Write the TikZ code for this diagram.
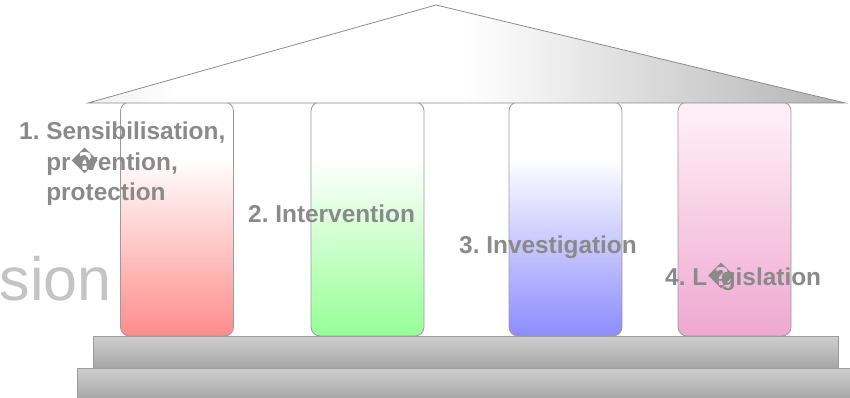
\documentclass[tikz,border=0pt]{standalone}
\usepackage{fontspec}
\setmainfont{Liberation Sans}
\newfontfamily\dvfont{DejaVu Sans}
\usetikzlibrary{shapes.misc}
\frenchspacing
\definecolor{txtgray}{RGB}{138,138,138}
\definecolor{biggray}{RGB}{196,196,196}
\definecolor{edgegray}{RGB}{155,155,155}
\definecolor{cRed}{RGB}{255,140,140}
\definecolor{cGreen}{RGB}{150,255,150}
\definecolor{cBlue}{RGB}{140,140,255}
\definecolor{cPink}{RGB}{238,168,208}
\definecolor{cPinkTop}{RGB}{255,238,246}
\pgfdeclareverticalshading{shRed}{100bp}{color(0bp)=(cRed); color(25bp)=(cRed); color(63bp)=(white); color(100bp)=(white)}
\pgfdeclareverticalshading{shGreen}{100bp}{color(0bp)=(cGreen); color(25bp)=(cGreen); color(63bp)=(white); color(100bp)=(white)}
\pgfdeclareverticalshading{shBlue}{100bp}{color(0bp)=(cBlue); color(25bp)=(cBlue); color(63bp)=(white); color(100bp)=(white)}
\pgfdeclareverticalshading{shPink}{100bp}{color(0bp)=(cPink); color(25bp)=(cPink); color(72bp)=(cPinkTop); color(100bp)=(cPinkTop)}
\pgfdeclarehorizontalshading{shRoof}{100bp}{color(0bp)=(white!94!black); color(25bp)=(white!94!black); color(31bp)=(white); color(50bp)=(white); color(75bp)=(black!30); color(100bp)=(black!30)}
\newcommand{\repl}{\makebox[0.555em][l]{\hspace{0.02em}\dvfont\bfseries\symbol{"FFFD}}}
\tikzset{
  pillar/.style={draw=edgegray, line width=0.8pt, rounded corners=9pt, minimum width=113pt, minimum height=234pt, inner sep=0pt},
  stepbox/.style={draw=edgegray, line width=0.8pt, top color=black!19, bottom color=black!35},
  lbl/.style={font=\bfseries\fontsize{24.4}{30}\selectfont, text=txtgray, inner sep=0pt, anchor=base west, align=left},
}
\begin{document}
\begin{tikzpicture}[x=1pt,y=-1pt]
\useasboundingbox (0,0) rectangle (850,398);
% big partial word
\node[font=\fontsize{61}{61}\selectfont, text=biggray, inner sep=0pt, anchor=base east] (big) at (112,300) {sion};
% steps
\draw[stepbox] (77,368) rectangle (852,400);
\draw[stepbox] (93,336) rectangle (838,368);
% pillars
\node[pillar, shading=shRed] (p1) at (177,219) {};
\node[pillar, shading=shGreen] (p2) at (367.5,219) {};
\node[pillar, shading=shBlue] (p3) at (565.5,219) {};
\node[pillar, shading=shPink] (p4) at (734.5,219) {};
% roof
\coordinate (rl) at (88,103);
\coordinate (rr) at (845,103);
\coordinate (ra) at (436,5);
\draw[draw=black!45, line width=0.8pt, shading=shRoof] (rl) -- (ra) -- (rr) -- cycle;
% labels
\node[lbl] (l1) at (19,200) {1. Sensibilisation,\\\phantom{1. }pr\repl vention,\\\phantom{1. }protection};
\node[lbl] (l2) at (248,222) {2. Intervention};
\node[lbl] (l3) at (459,253) {3. Investigation};
\node[lbl] (l4) at (665,285) {4. L\repl gislation};
\end{tikzpicture}
\end{document}
